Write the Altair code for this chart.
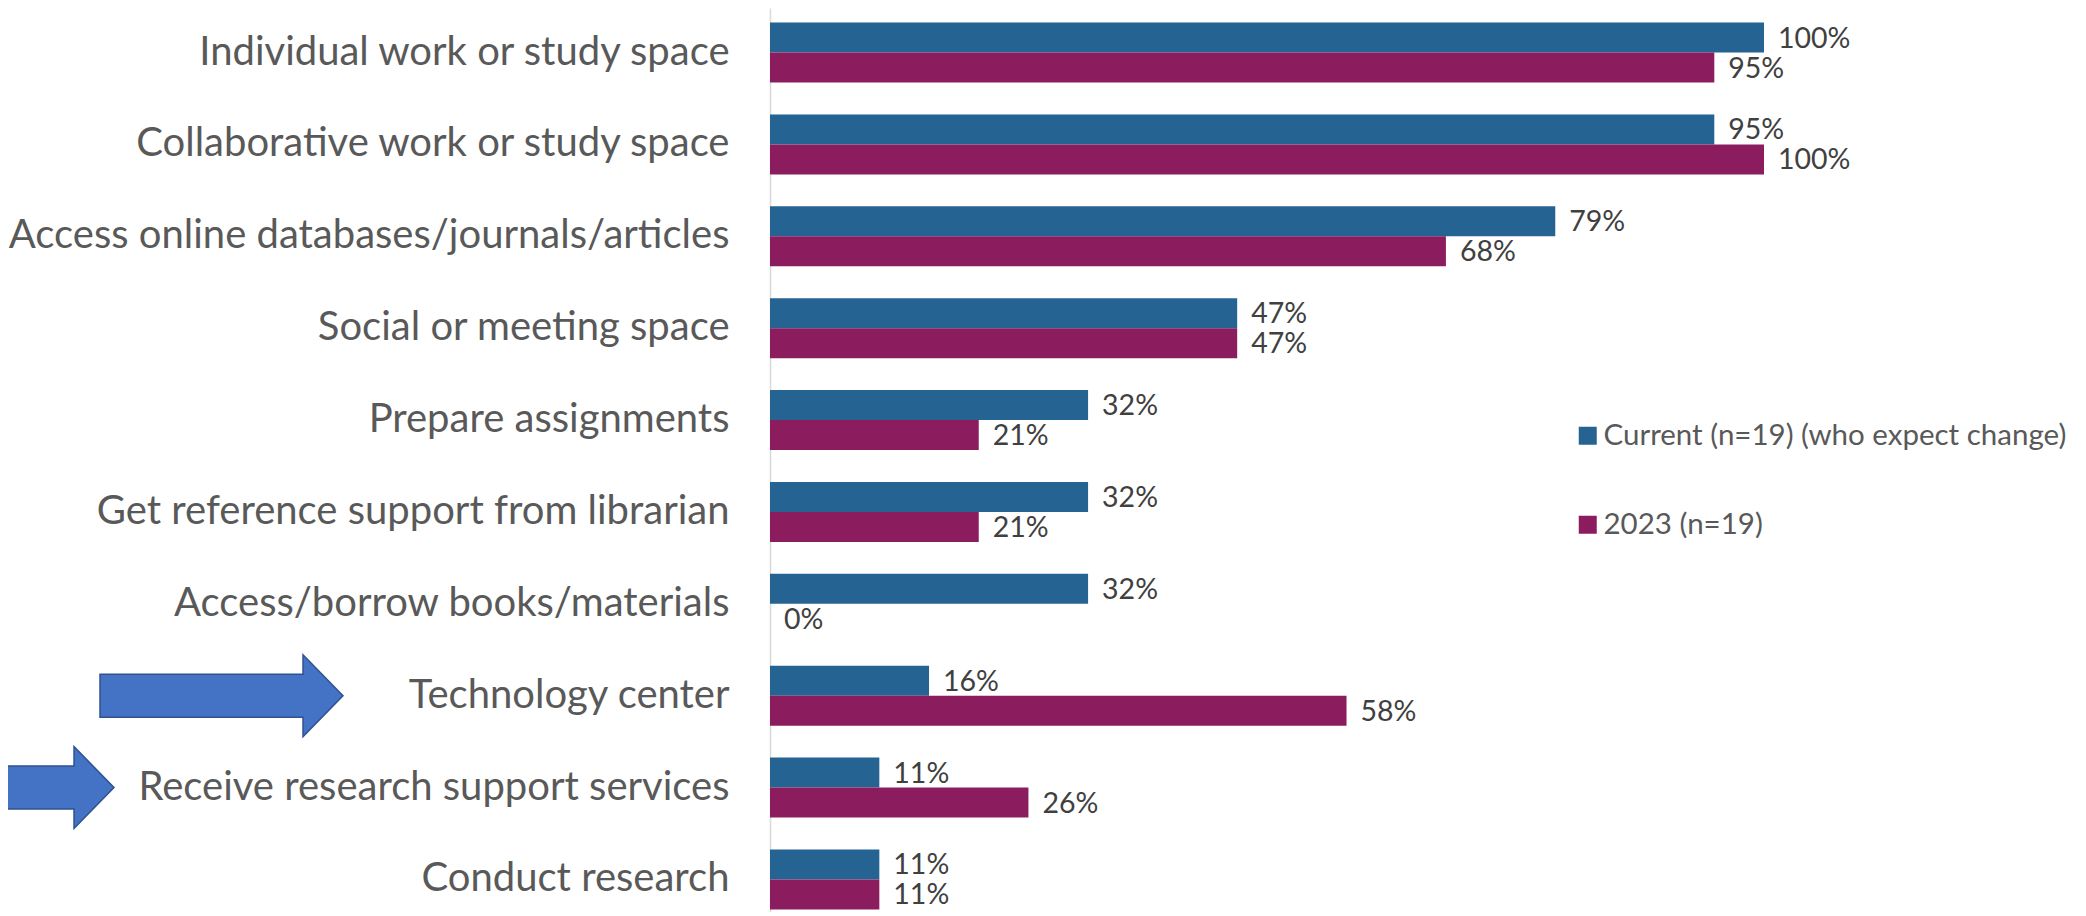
import altair as alt
import pandas as pd

categories = [
    "Individual work or study space",
    "Collaborative work or study space",
    "Access online databases/journals/articles",
    "Social or meeting space",
    "Prepare assignments",
    "Get reference support from librarian",
    "Access/borrow books/materials",
    "Technology center",
    "Receive research support services",
    "Conduct research",
]
series = ["Current (n=19) (who expect change)", "2023 (n=19)"]
current_vals = [1.00, 0.95, 0.79, 0.47, 0.32, 0.32, 0.32, 0.16, 0.11, 0.11]
future_vals = [0.95, 1.00, 0.68, 0.47, 0.21, 0.21, 0.00, 0.58, 0.26, 0.11]
colors = ["#246392", "#8B1C5E"]
arrow_categories = ["Technology center", "Receive research support services"]

rows = []
for c, a, b in zip(categories, current_vals, future_vals):
    rows.append({"category": c, "series": series[0], "value": a})
    rows.append({"category": c, "series": series[1], "value": b})
df = pd.DataFrame(rows)

FONT = "Lato"

y_scale = alt.Scale(range=[0, 916], paddingInner=0.347, paddingOuter=0.159)
y_enc = alt.Y(
    "category:N",
    sort=categories,
    scale=y_scale,
    axis=alt.Axis(
        title=None,
        labelFontSize=40,
        labelFont=FONT,
        labelColor="#595959",
        labelPadding=41,
        ticks=False,
        domainColor="#D9D9D9",
        domainWidth=1.5,
        grid=False,
        labelLimit=0,
    ),
)
x_enc = alt.X("value:Q", scale=alt.Scale(domain=[0, 1], nice=False), axis=None)
yoff = alt.YOffset("series:N", sort=series, scale=alt.Scale(paddingInner=0, paddingOuter=0))

base = alt.Chart(df).encode(y=y_enc, x=x_enc, yOffset=yoff)

bars = base.mark_bar().encode(
    color=alt.Color(
        "series:N",
        sort=series,
        scale=alt.Scale(domain=series, range=colors),
        legend=alt.Legend(
            title=None,
            orient="none",
            legendX=803,
            legendY=413,
            symbolType="square",
            symbolSize=324,
            symbolStrokeWidth=0,
            labelFontSize=29.5,
            labelFont=FONT,
            labelColor="#595959",
            rowPadding=58,
            labelOffset=1,
            labelLimit=0,
        ),
    )
)

labels = base.mark_text(
    align="left", baseline="middle", dx=14, dy=1, fontSize=28.5, font=FONT, color="#404040"
).encode(text=alt.Text("value:Q", format=".0%"))

arrow_path = (
    "M-1,-0.177 L0.671,-0.177 L0.671,-0.337 L1,0 L0.671,0.337 "
    "L0.671,0.177 L-1,0.177 Z"
)
arrow_df = pd.DataFrame({"category": arrow_categories})


def arrow_layer(cat, xpix):
    return (
        alt.Chart(arrow_df[arrow_df["category"] == cat])
        .mark_point(
            shape=arrow_path,
            filled=True,
            fill="#4472C4",
            stroke="#2F528F",
            strokeWidth=1.5,
            opacity=1,
            size=59049,
        )
        .encode(y=alt.Y("category:N", sort=categories, scale=y_scale), x=alt.value(xpix))
    )


arrow1 = arrow_layer(arrow_categories[0], -548.5)
arrow2 = arrow_layer(arrow_categories[1], -777.5)

chart = (
    alt.layer(bars, labels, arrow1, arrow2)
    .properties(
        width=994,
        height=904,
        autosize=alt.AutoSizeParams(type="none"),
        padding={"left": 762, "top": 0, "right": 314, "bottom": 0},
        background="white",
    )
    .configure_view(stroke=None)
)

chart.save("out.html", embed_options={"renderer": "svg", "actions": False})
